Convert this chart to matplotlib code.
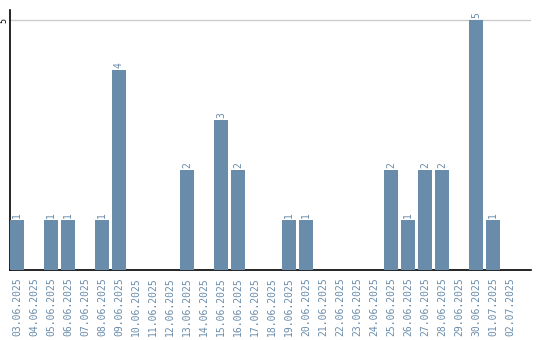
import matplotlib
matplotlib.use("Agg")
import matplotlib.pyplot as plt

dates = ["03.06.2025", "04.06.2025", "05.06.2025", "06.06.2025", "07.06.2025",
         "08.06.2025", "09.06.2025", "10.06.2025", "11.06.2025", "12.06.2025",
         "13.06.2025", "14.06.2025", "15.06.2025", "16.06.2025", "17.06.2025",
         "18.06.2025", "19.06.2025", "20.06.2025", "21.06.2025", "22.06.2025",
         "23.06.2025", "24.06.2025", "25.06.2025", "26.06.2025", "27.06.2025",
         "28.06.2025", "29.06.2025", "30.06.2025", "01.07.2025", "02.07.2025"]
counts = [1, 0, 1, 1, 0, 1, 4, 0, 0, 0, 2, 0, 3, 2, 0, 0, 1, 1, 0, 0,
          0, 0, 2, 1, 2, 2, 0, 5, 1, 0]
yticks = [5]

bar_color = "#6a8cab"
label_color = "#6a8cab"

fig = plt.figure(figsize=(5.4, 3.4), dpi=100)
ax = fig.add_axes([10/540, 70/340, 521/540, 260/340])

x = list(range(len(dates)))
bw = 14/17
ax.bar(x, counts, width=bw, color=bar_color, zorder=3)
for xi, v in zip(x, counts):
    if v > 0:
        ax.text(xi, v + 0.04, str(v), rotation=90, ha="center", va="bottom",
                color=label_color, fontsize=7, family="DejaVu Sans Mono")

ax.set_xlim(-bw/2, -bw/2 + 521/17)
ax.set_ylim(0, 5.2)
ax.set_xticks(x)
ax.set_xticklabels(dates, rotation=90, family="DejaVu Sans Mono", fontsize=7,
                   color=label_color)
ax.tick_params(axis="x", length=0, pad=5)
ax.set_yticks(yticks)
ax.set_yticklabels([str(t) for t in yticks], rotation=90, fontsize=6,
                   family="DejaVu Sans Mono", va="center")
ax.tick_params(axis="y", length=0, pad=1)
ax.yaxis.grid(True, color="#cccccc", linewidth=1, zorder=0)
for s in ["top", "right"]:
    ax.spines[s].set_visible(False)
ax.spines["left"].set_color("black")
ax.spines["bottom"].set_color("black")
ax.spines["left"].set_linewidth(1.2)
ax.spines["bottom"].set_linewidth(1.2)

fig.savefig("out.png", dpi=100)
